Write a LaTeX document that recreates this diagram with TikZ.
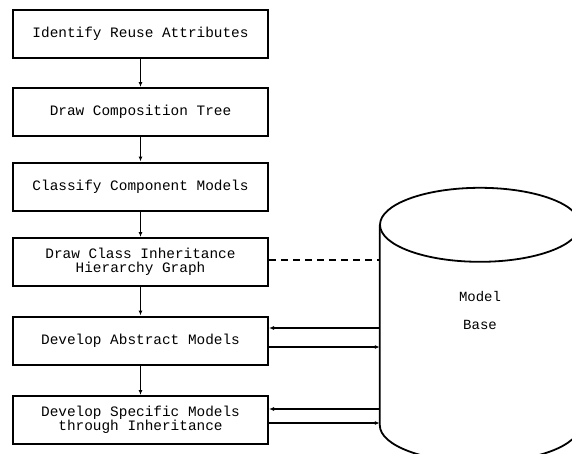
\documentclass[tikz,border=0pt]{standalone}
\usepackage{fontspec}
\setmonofont{Liberation Mono}
\usetikzlibrary{arrows.meta}

\begin{document}
\begin{tikzpicture}[
  x=1pt, y=-1pt,
  stepbox/.style={draw, line width=2pt, minimum width=255pt, minimum height=48pt,
    align=center, font=\ttfamily\fontsize{14.4}{13.5}\selectfont},
  flow/.style={line width=1.4pt, -{Latex[length=5pt,width=4pt]}},
  link/.style={line width=1.4pt, dash pattern=on 7pt off 5pt}
]
  \useasboundingbox (0,0) rectangle (572,453);

  % process steps
  \node[stepbox] (s1) at (140.5,34)    {Identify Reuse Attributes};
  \node[stepbox] (s2) at (140.5,112)   {Draw Composition Tree};
  \node[stepbox] (s3) at (140.5,186.5) {Classify Component Models};
  \node[stepbox] (s4) at (140.5,262)   {Draw Class Inheritance\\Hierarchy Graph};
  \node[stepbox] (s5) at (140.5,340.5) {Develop Abstract Models};
  \node[stepbox] (s6) at (140.5,420)   {Develop Specific Models\\through Inheritance};

  \draw[flow] (s1) -- (s2);
  \draw[flow] (s2) -- (s3);
  \draw[flow] (s3) -- (s4);
  \draw[flow] (s4) -- (s5);
  \draw[flow] (s5) -- (s6);

  % model base (cylinder body)
  \node[minimum width=200pt, minimum height=200pt, inner sep=0pt] (mb) at (480,325) {};
  \node[font=\ttfamily\fontsize{14}{14}\selectfont, align=center] (mbtext) at (480,310)
        {Model\\[14pt]Base};
  \begin{scope}
    \clip (0,0) rectangle (572,453);
    \draw[line width=1.8pt] (mb.north) ellipse [x radius=100pt, y radius=37pt];
    \draw[line width=1.8pt] (mb.north west) -- (mb.south west)
      arc [start angle=180, end angle=360, x radius=100pt, y radius=37pt]
      -- (mb.north east);
  \end{scope}

  \draw[link] ([yshift=2pt]s4.east) -- ([yshift=2pt]s4.east -| mb.west);
  \draw[flow] ([yshift=12.5pt]s5.east -| mb.west) -- ([yshift=12.5pt]s5.east);
  \draw[flow] ([yshift=-6.5pt]s5.east) -- ([yshift=-6.5pt]s5.east -| mb.west);
  \draw[flow] ([yshift=11pt]s6.east -| mb.west) -- ([yshift=11pt]s6.east);
  \draw[flow] ([yshift=-3pt]s6.east) -- ([yshift=-3pt]s6.east -| mb.west);
\end{tikzpicture}
\end{document}
